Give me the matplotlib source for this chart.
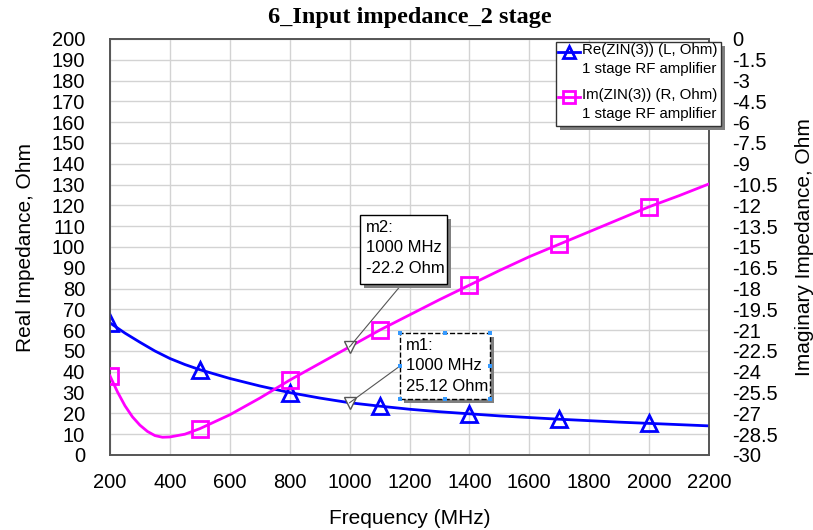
import numpy as np
import matplotlib
matplotlib.use("Agg")
import matplotlib.pyplot as plt
from matplotlib.patches import Rectangle
from matplotlib.lines import Line2D

# ---------------- data ----------------
re_freq = [200, 250, 300, 350, 400, 450, 500, 600, 700, 800, 900, 1000, 1100, 1200,
           1300, 1400, 1500, 1600, 1700, 1800, 1900, 2000, 2100, 2200]
re_vals = [63.5, 58.6, 54.2, 50.0, 46.4, 43.5, 41.0, 36.8, 33.2, 30.0, 27.4, 25.12,
           23.5, 22.0, 20.8, 19.8, 18.8, 18.0, 17.2, 16.5, 15.8, 15.2, 14.6, 14.0]

im_freq = [200, 225, 250, 275, 300, 325, 350, 375, 400, 450, 500, 600, 700, 800,
           900, 1000, 1100, 1200, 1300, 1400, 1500, 1600, 1700, 1800, 1900, 2000,
           2100, 2200]
im_vals = [-24.3, -25.45, -26.45, -27.25, -27.85, -28.3, -28.6, -28.72, -28.7, -28.5,
           -28.1, -27.1, -25.9, -24.6, -23.4, -22.2, -21.0, -19.9, -18.8, -17.75,
           -16.7, -15.7, -14.8, -13.9, -13.0, -12.1, -11.3, -10.45]

symbol_freqs = [200, 500, 800, 1100, 1400, 1700, 2000]

marker_freq = 1000
m1_value = 25.12
m2_value = -22.2

x_ticks = list(range(200, 2201, 200))
left_ticks = list(range(0, 201, 10))
right_ticks = [-30 + 1.5 * i for i in range(21)]

title = "6_Input impedance_2 stage"
legend_labels = ["Re(ZIN(3)) (L, Ohm)\n1 stage RF amplifier",
                 "Im(ZIN(3)) (R, Ohm)\n1 stage RF amplifier"]

BLUE = "#0000ff"
MAG = "#ff00ff"

def fmt(v):
    s = ("%.1f" % v).rstrip("0").rstrip(".")
    return "0" if s in ("-0", "0") else s

# ---------------- figure ----------------
fig = plt.figure(figsize=(8.13, 5.30), dpi=100)
L, R, B, T = 110 / 813, 709 / 813, 1 - 455 / 530, 1 - 39 / 530
ax = fig.add_axes([L, B, R - L, T - B])
ax2 = ax.twinx()

ax.set_xlim(200, 2200)
ax.set_ylim(0, 200)
ax2.set_ylim(-30, 0)

ax.set_xticks(x_ticks)
ax.set_yticks(left_ticks)
ax2.set_yticks(right_ticks)
ax.set_xticklabels([str(v) for v in x_ticks])
ax.set_yticklabels([str(v) for v in left_ticks])
ax2.set_yticklabels([fmt(v) for v in right_ticks])

TF = 14.5
for lab in ax.get_xticklabels() + ax.get_yticklabels() + ax2.get_yticklabels():
    lab.set_fontfamily("Liberation Sans")
    lab.set_fontsize(TF)
ax.tick_params(axis="x", length=0, pad=13)
ax.tick_params(axis="y", length=0, pad=18)
ax2.tick_params(axis="y", length=0, pad=17)

ax.grid(True, color="#d3d3d3", linewidth=1.0)
ax.set_axisbelow(True)
for sp in list(ax.spines.values()) + list(ax2.spines.values()):
    sp.set_color("#555555")
    sp.set_linewidth(1.2)

LF = 15
ax.set_xlabel("Frequency (MHz)", fontfamily="Liberation Sans", fontsize=LF, labelpad=12)
ax.set_ylabel("Real Impedance, Ohm", fontfamily="Liberation Sans", fontsize=LF, labelpad=12)
ax2.set_ylabel("Imaginary Impedance, Ohm", fontfamily="Liberation Sans", fontsize=LF, labelpad=12)
fig.text(410 / 813, 1 - 17 / 530, title, ha="center", va="center",
         fontfamily="Liberation Serif", fontweight="bold", fontsize=17.5)

re_idx = [re_freq.index(f) for f in symbol_freqs]
im_idx = [im_freq.index(f) for f in symbol_freqs]

ax.plot(re_freq, re_vals, color=BLUE, lw=2, marker="^", markevery=re_idx,
        markersize=11, markerfacecolor="none", markeredgewidth=2, clip_on=True, zorder=3)
ax2.plot(im_freq, im_vals, color=MAG, lw=2, marker="s", markevery=im_idx,
         markersize=11, markerfacecolor="none", markeredgewidth=2, clip_on=True, zorder=3)

# marker points
ax.plot([marker_freq], [m1_value], marker="v", color="#555555", markerfacecolor="white",
        markersize=9, markeredgewidth=1, zorder=4)
ax2.plot([marker_freq], [m2_value], marker="v", color="#555555", markerfacecolor="white",
         markersize=9, markeredgewidth=1, zorder=4)

def pix(x, y):
    return (x / 813, 1 - y / 530)

def box(x0, y0, x1, y1, text, dashed=False):
    fig.patches.append(Rectangle(pix(x0 + 4, y1 + 4), (x1 - x0) / 813, (y1 - y0) / 530,
                                 transform=fig.transFigure, facecolor="#808080",
                                 edgecolor="none", zorder=5))
    fig.patches.append(Rectangle(pix(x0, y1), (x1 - x0) / 813, (y1 - y0) / 530,
                                 transform=fig.transFigure, facecolor="white",
                                 edgecolor="black", lw=1,
                                 linestyle="--" if dashed else "-", zorder=6))
    fig.text(*pix(x0 + 6, y0 + 5), text, ha="left", va="top",
             fontfamily="Liberation Sans", fontsize=12, linespacing=1.45, zorder=7)

def data_to_fig(axis, x, y):
    d = axis.transData.transform((x, y))
    return fig.transFigure.inverted().transform(d)

fig.canvas.draw()
p2 = data_to_fig(ax2, marker_freq, m2_value)
p1 = data_to_fig(ax, marker_freq, m1_value)
fig.lines.append(Line2D([p2[0], 402 / 813], [p2[1], 1 - 284 / 530], transform=fig.transFigure,
                        color="#555555", lw=0.8, zorder=4))
fig.lines.append(Line2D([p1[0], 400 / 813], [p1[1], 1 - 366 / 530], transform=fig.transFigure,
                        color="#555555", lw=0.8, zorder=4))

box(360, 215, 447, 284, "m2:\n1000 MHz\n-22.2 Ohm")
box(400, 333, 490, 399, "m1:\n1000 MHz\n25.12 Ohm", dashed=True)
hx = [400, 445, 490]
hy = [333, 366, 399]
for xx in hx:
    for yy in hy:
        if xx == 445 and yy == 366:
            continue
        fig.patches.append(Rectangle(pix(xx - 2, yy + 2), 4 / 813, 4 / 530,
                                     transform=fig.transFigure, facecolor="#3399ff",
                                     edgecolor="none", zorder=8))

# legend box
lx0, ly0, lx1, ly1 = 556, 42, 721, 126
fig.patches.append(Rectangle(pix(lx0 + 4, ly1 + 4), (lx1 - lx0) / 813, (ly1 - ly0) / 530,
                             transform=fig.transFigure, facecolor="#808080",
                             edgecolor="none", zorder=5))
fig.patches.append(Rectangle(pix(lx0, ly1), (lx1 - lx0) / 813, (ly1 - ly0) / 530,
                             transform=fig.transFigure, facecolor="white",
                             edgecolor="#333333", lw=1, zorder=6))
for i, (col, mk) in enumerate([(BLUE, "^"), (MAG, "s")]):
    yy = 52 + i * 45
    fig.lines.append(Line2D([558 / 813, 580 / 813], [1 - yy / 530] * 2, transform=fig.transFigure,
                            color=col, lw=2, zorder=7))
    fig.lines.append(Line2D([569 / 813], [1 - yy / 530], transform=fig.transFigure,
                            color=col, marker=mk, markersize=8, markerfacecolor="none",
                            markeredgewidth=2, zorder=7))
    fig.text(*pix(582, yy - 9), legend_labels[i], ha="left", va="top",
             fontfamily="Liberation Sans", fontsize=10.8, linespacing=1.45, zorder=7)

fig.savefig("out.png", dpi=100)
